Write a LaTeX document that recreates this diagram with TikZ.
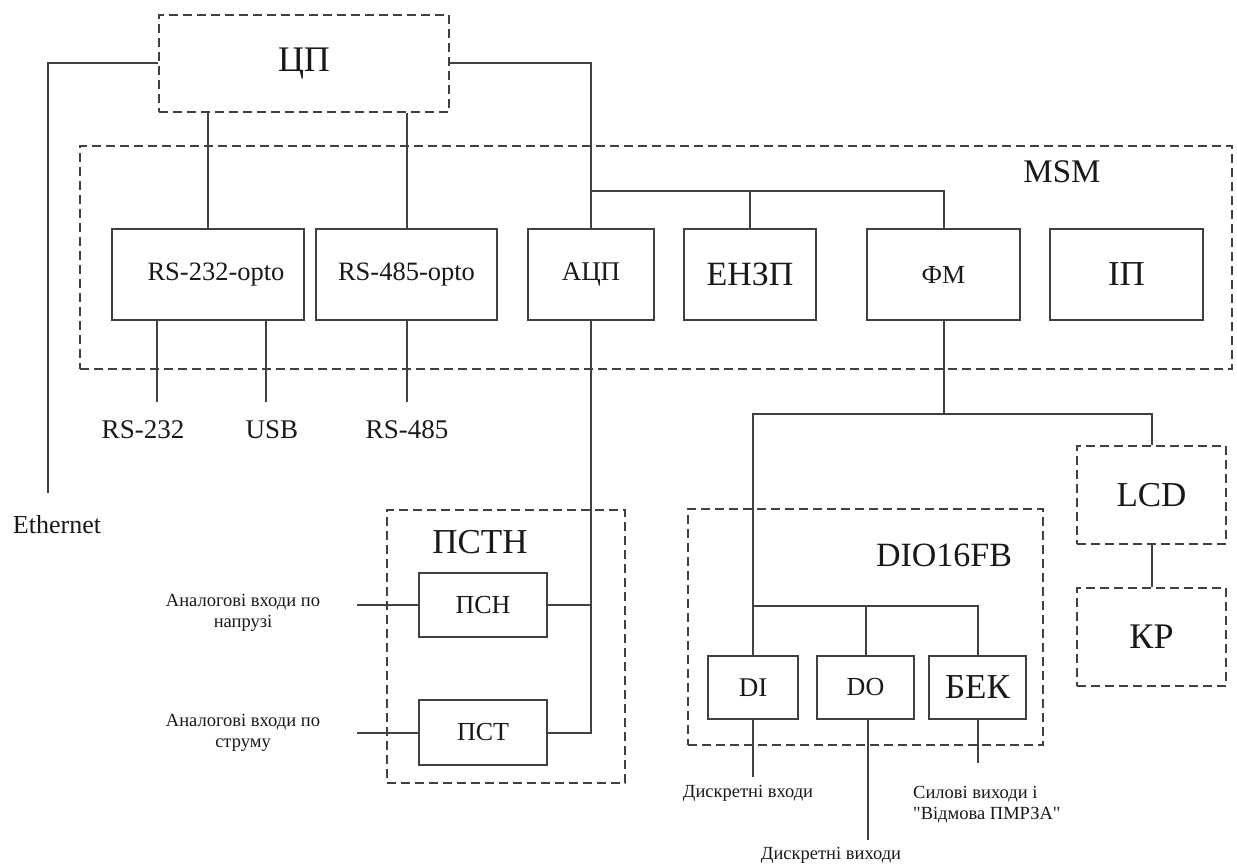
\documentclass[tikz,border=0pt]{standalone}
\usepackage{fontspec}
\setmainfont{Liberation Serif}[Ligatures=TeXOff]
\newcommand{\fsz}[1]{\fontsize{#1}{#1}\selectfont}
\begin{document}
\begin{tikzpicture}[x=1pt,y=-1pt,
  ln/.style={draw=black!75, line width=2pt},
  solidbox/.style={rectangle, ln, inner sep=0pt, text=black!90},
  dbox/.style={rectangle, ln, dash pattern=on 9pt off 5pt, inner sep=0pt, text=black!90},
  lbl/.style={inner sep=0pt, text=black!90},
]
\fill[white] (0,0) rectangle (1237,866);
\useasboundingbox (0,0) rectangle (1237,866);

% containers
\node[dbox, minimum width=290pt, minimum height=97pt, font=\fsz{36}] (cp) at (304,63.5) {ЦП};
\node[dbox, minimum width=1152pt, minimum height=223pt] (msm) at (656,257.5) {};
\node[lbl, font=\fsz{33}] (msmlbl) at (1062,172) {MSM};
\node[dbox, minimum width=238pt, minimum height=273pt] (pstn) at (506,646.5) {};
\node[lbl, font=\fsz{35}] (pstnlbl) at (480,542) {ПСТН};
\node[dbox, minimum width=355pt, minimum height=236pt] (dio) at (865.5,627) {};
\node[lbl, font=\fsz{34}] (diolbl) at (944,555) {DIO16FB};
\node[dbox, minimum width=149pt, minimum height=98pt, font=\fsz{35}] (lcd) at (1151.5,495) {LCD};
\node[dbox, minimum width=149pt, minimum height=98pt, font=\fsz{36}] (kp) at (1151.5,637) {КР};

% MSM modules
\node[solidbox, minimum width=192pt, minimum height=91pt] (rs232o) at (208,274.5) {};
\node[lbl, font=\fsz{26.5}] (rs232otxt) at (216,274.5) {RS-232-opto};
\node[solidbox, minimum width=181pt, minimum height=91pt, font=\fsz{26.5}] (rs485o) at (406.5,274.5) {RS-485-opto};
\node[solidbox, minimum width=126pt, minimum height=91pt, font=\fsz{27}] (adc) at (591,274.5) {АЦП};
\node[solidbox, minimum width=132pt, minimum height=91pt, font=\fsz{34}] (enzp) at (750,274.5) {ЕНЗП};
\node[solidbox, minimum width=153pt, minimum height=91pt, font=\fsz{26}] (fm) at (943.5,274.5) {ФМ};
\node[solidbox, minimum width=153pt, minimum height=91pt, font=\fsz{35}] (ip) at (1126.5,274.5) {ІП};

% PSTN modules
\node[solidbox, minimum width=128pt, minimum height=64pt, font=\fsz{26}] (psn) at (483,605) {ПСН};
\node[solidbox, minimum width=128pt, minimum height=65pt, font=\fsz{26}] (pst) at (483,732.5) {ПСТ};

% DIO modules
\node[solidbox, minimum width=90pt, minimum height=63pt, font=\fsz{27}] (di) at (753,687.5) {DI};
\node[solidbox, minimum width=97pt, minimum height=63pt, font=\fsz{26}] (do) at (865.5,687.5) {DO};
\node[solidbox, minimum width=97pt, minimum height=63pt, font=\fsz{35}] (bek) at (977.5,687.5) {БЕК};

% free ends
\coordinate (ethend) at (48,493);
\coordinate (rs232end) at (157,402);
\coordinate (usbend) at (266,402);
\coordinate (rs485end) at (406.5,402);
\coordinate (bus) at (591,191);
\coordinate (fmbus) at (943.5,414);
\coordinate (diobus) at (753,606);
\coordinate (ain1) at (357,605);
\coordinate (ain2) at (357,732.5);
\coordinate (diend) at (753,777);
\coordinate (doend) at (868,840);
\coordinate (bekend) at (977.5,763);

% labels
\node[lbl, font=\fsz{26}] (eth) at (57,525) {Ethernet};
\node[lbl, font=\fsz{27}] (rs232) at (143,430) {RS-232};
\node[lbl, font=\fsz{27}] (usb) at (272,430) {USB};
\node[lbl, font=\fsz{27}] (rs485) at (407,430) {RS-485};
\node[lbl, font=\fontsize{18.5}{21}\selectfont, align=center] (ain1lbl) at (243,613) {Аналогові входи по\\напрузі};
\node[lbl, font=\fontsize{18.5}{21}\selectfont, align=center] (ain2lbl) at (243,733) {Аналогові входи по\\струму};
\node[lbl, font=\fsz{18.5}] (dilbl) at (748,793) {Дискретні входи};
\node[lbl, font=\fsz{18.5}] (dolbl) at (831,855) {Дискретні виходи};
\node[lbl, font=\fontsize{18.5}{21}\selectfont, align=left, anchor=north west] (beklbl) at (913,786) {Силові виходи і\\"Відмова ПМРЗА"};

% connectors
\draw[ln] (cp.west) -| (ethend);
\draw[ln] (cp.south -| rs232o.north) -- (rs232o.north);
\draw[ln] (cp.south -| rs485o.north) -- (rs485o.north);
\draw[ln] (cp.east) -| (adc.north);
\draw[ln] (bus) -| (fm.north);
\draw[ln] (enzp.north |- bus) -- (enzp.north);
\draw[ln] (rs232o.south -| rs232end) -- (rs232end);
\draw[ln] (rs232o.south -| usbend) -- (usbend);
\draw[ln] (rs485o.south) -- (rs485end);
\draw[ln] (adc.south) |- (pst.east);
\draw[ln] (psn.east) -- (psn.east -| adc.south);
\draw[ln] (ain1) -- (psn.west);
\draw[ln] (ain2) -- (pst.west);
\draw[ln] (fm.south) -- (fmbus);
\draw[ln] (di.north) |- (fmbus) -| (lcd.north);
\draw[ln] (diobus) -| (bek.north);
\draw[ln] (do.north |- diobus) -- (do.north);
\draw[ln] (lcd.south) -- (kp.north);
\draw[ln] (di.south) -- (diend);
\draw[ln] (do.south -| doend) -- (doend);
\draw[ln] (bek.south) -- (bekend);
\end{tikzpicture}
\end{document}
